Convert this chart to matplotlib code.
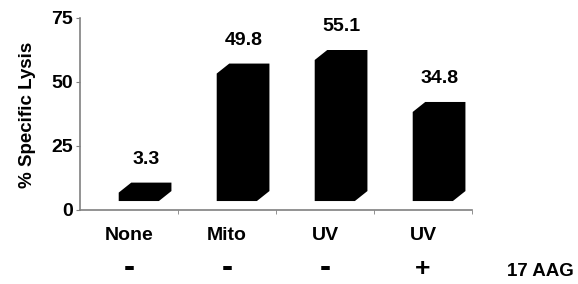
import matplotlib

matplotlib.use("Agg")
import matplotlib.pyplot as plt
from matplotlib import font_manager

categories = ["None", "Mito", "UV", "UV"]
lysis = [3.3, 49.8, 55.1, 34.8]
aag_signs = ["-", "-", "-", "+"]
y_ticks = [0, 25, 50, 75]


def _family(name, fallback):
    names = {f.name for f in font_manager.fontManager.ttflist}
    return name if name in names else fallback


narrow = _family("Liberation Sans Narrow", "Liberation Sans")
wide = _family("Liberation Sans", "DejaVu Sans")

fig = plt.figure(figsize=(5.78, 2.84), dpi=100)
ax = fig.add_axes([80 / 578, 74 / 284, 392 / 578, 192 / 284])

# pseudo 3d bars: front face plus a depth offset up and to the right
base = 3.5
width = 0.41
shift = 0.1
dx, dy = 0.128, 3.9
for i, value in enumerate(lysis):
    left = i + shift - width / 2
    right = left + width
    top = base + value
    xs = [left, right, right + dx, right + dx, left + dx, left]
    ys = [base, base, base + dy, top + dy, top + dy, top]
    ax.fill(xs, ys, color="black", lw=0)
    ax.text(i + 0.17, top + dy + 9, f"{value:.1f}", ha="center", va="center",
            fontsize=14, fontweight="bold", family=narrow)

ax.set_xlim(-0.5, 3.5)
ax.set_ylim(0, 75)
ax.set_yticks(y_ticks)
ax.set_yticklabels([str(t) for t in y_ticks], fontsize=14, fontweight="bold", family=narrow)
ax.set_xticks(range(len(categories)))
ax.set_xticklabels(categories, fontsize=14, fontweight="bold", family=narrow)
ax.set_xticks([0.5, 1.5, 2.5, 3.5], minor=True)
ax.tick_params(axis="x", which="major", length=0, pad=12)
ax.tick_params(axis="x", which="minor", length=3, color="#808080", direction="out")
ax.tick_params(axis="y", length=3, color="#808080", pad=2)

for side in ["top", "right"]:
    ax.spines[side].set_visible(False)
for side in ["left", "bottom"]:
    ax.spines[side].set_color("#808080")
    ax.spines[side].set_linewidth(1.2)

ax.set_ylabel("% Specific Lysis", fontsize=13.5, fontweight="bold", family=wide)
ax.yaxis.set_label_coords(-0.112, 0.495)

for i, sign in enumerate(aag_signs):
    ax.text(i, -0.305, sign, transform=ax.get_xaxis_transform(), ha="center", va="center",
            fontsize=19 if sign == "+" else 24, fontweight="bold", family=wide)
fig.text(540 / 578, 12 / 284, "17 AAG", ha="center", va="center",
         fontsize=13.5, fontweight="bold", family=narrow)

fig.savefig("out.png", dpi=100)
